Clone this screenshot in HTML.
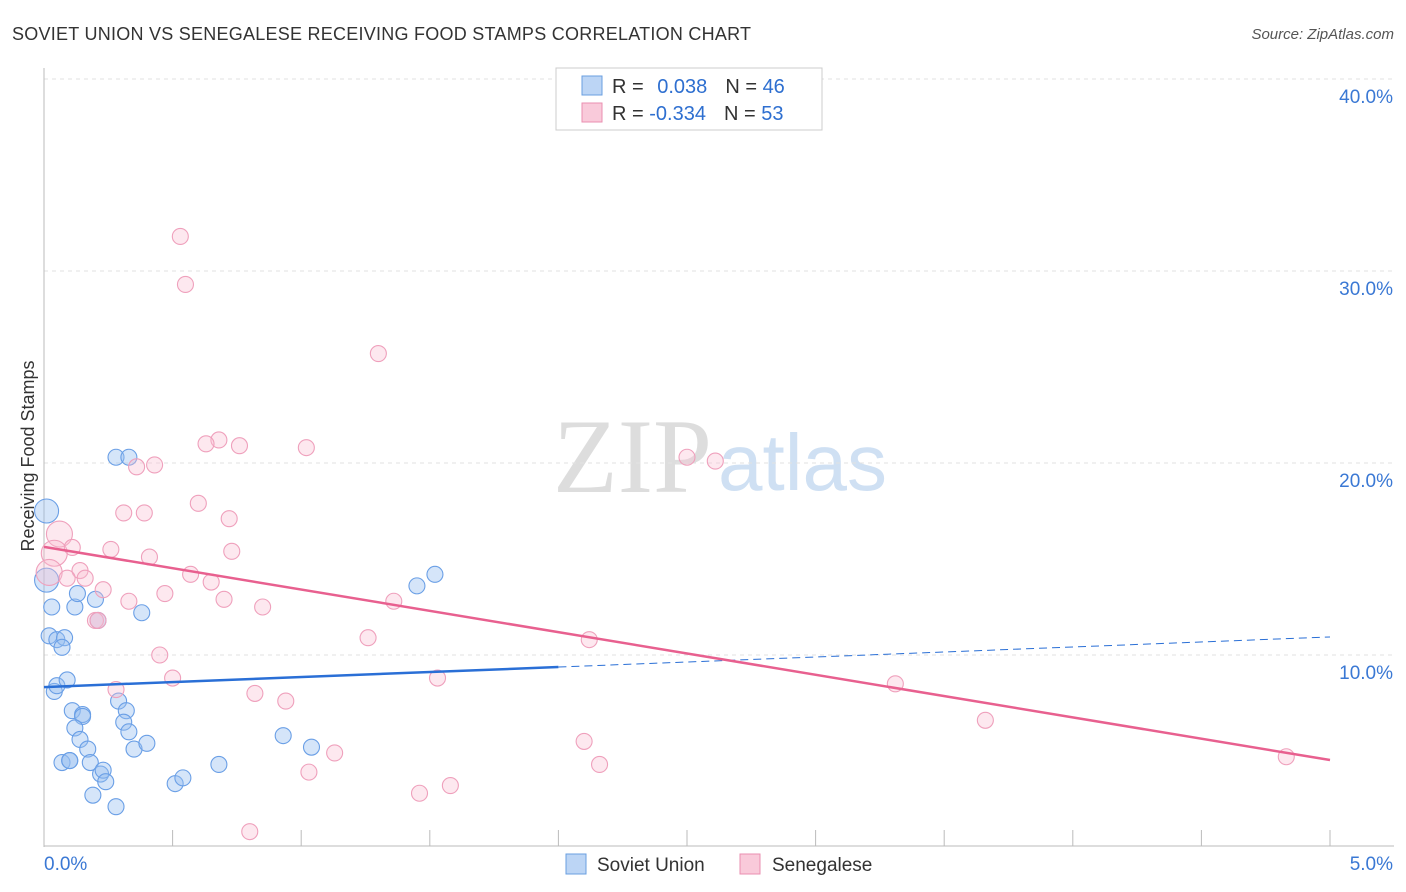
<!DOCTYPE html>
<html><head><meta charset="utf-8"><style>
body{margin:0;background:#fff;font-family:"Liberation Sans",sans-serif;}
svg{display:block}
</style></head><body>
<svg id="chart" width="1406" height="892">
<text x="12" y="40" font-size="18" fill="#333" letter-spacing="0.25">SOVIET UNION VS SENEGALESE RECEIVING FOOD STAMPS CORRELATION CHART</text>
<text x="1394" y="39" font-size="15" fill="#555" font-style="italic" text-anchor="end">Source: ZipAtlas.com</text>
<text x="34" y="456" font-size="18" fill="#333" transform="rotate(-90 34 456)" text-anchor="middle">Receiving Food Stamps</text>
<g><text x="553" y="492" font-size="106" fill="#ddd" font-family="Liberation Serif,serif">ZIP</text><text x="718" y="490" font-size="80" fill="#cfe0f3">atlas</text></g>
<g id="grid"></g><g id="axes"></g><g id="marks"></g>
<g>
<rect x="556" y="68" width="266" height="62" fill="#fff" stroke="#ccc"/>
<rect x="582" y="76" width="20" height="19" fill="#bcd5f5" stroke="#6a9fe0"/>
<rect x="582" y="103" width="20" height="19" fill="#f9cada" stroke="#ea8fb0"/>
<text x="612" y="93" font-size="20" fill="#333">R = <tspan fill="#2e6fd0" dx="8">0.038</tspan><tspan dx="18">N = </tspan><tspan fill="#2e6fd0">46</tspan></text>
<text x="612" y="120" font-size="20" fill="#333">R = <tspan fill="#2e6fd0">-0.334</tspan><tspan dx="18">N = </tspan><tspan fill="#2e6fd0">53</tspan></text>
</g>
<g>
<rect x="566" y="854" width="20" height="20" fill="#bcd5f5" stroke="#6a9fe0"/>
<text x="597" y="871" font-size="19" fill="#333">Soviet Union</text>
<rect x="740" y="854" width="20" height="20" fill="#f9cada" stroke="#ea8fb0"/>
<text x="772" y="871" font-size="19" fill="#333">Senegalese</text>
</g>
</svg>
<script>
const yTicks=[10,20,30,40];
const yTickLabels=["10.0%","20.0%","30.0%","40.0%"];
const xTickLabels=["0.0%","5.0%"];
const blueX=[0.01,0.01,0.03,0.02,0.05,0.08,0.07,0.04,0.05,0.09,0.12,0.13,0.2,0.21,0.38,0.28,0.33,0.11,0.15,0.15,0.12,0.14,0.17,0.18,0.07,0.1,0.1,0.22,0.23,0.24,0.19,0.28,0.29,0.32,0.31,0.33,0.35,0.4,0.51,0.54,0.68,0.93,1.04,1.45,1.52];
const blueY=[17.5,13.9,12.5,11.0,10.8,10.9,10.4,8.1,8.4,8.7,12.5,13.2,12.9,11.8,12.2,20.3,20.3,7.1,6.9,6.8,6.2,5.6,5.1,4.4,4.4,4.5,4.5,3.8,4.0,3.4,2.7,2.1,7.6,7.1,6.5,6.0,5.1,5.4,3.3,3.6,4.3,5.8,5.2,13.6,14.2];
const pinkX=[0.53,0.55,1.3,1.02,0.68,0.63,0.76,0.36,0.43,0.6,0.31,0.39,0.72,0.06,0.04,0.02,0.11,0.26,0.41,0.73,0.14,0.16,0.09,0.57,0.65,0.23,0.47,0.33,0.7,0.85,1.36,0.2,0.21,1.26,2.12,0.45,0.5,0.28,0.82,0.94,1.53,3.31,3.66,4.83,1.13,1.03,1.46,1.58,2.1,2.16,0.8,2.5,2.61];
const pinkY=[31.8,29.3,25.7,20.8,21.2,21.0,20.9,19.8,19.9,17.9,17.4,17.4,17.1,16.3,15.3,14.3,15.6,15.5,15.1,15.4,14.4,14.0,14.0,14.2,13.8,13.4,13.2,12.8,12.9,12.5,12.8,11.8,11.8,10.9,10.8,10.0,8.8,8.2,8.0,7.6,8.8,8.5,6.6,4.7,4.9,3.9,2.8,3.2,5.5,4.3,0.8,20.3,20.1];
const blueTrend=[8.33,10.94];
const pinkTrend=[15.63,4.53];
const X=v=>44+v/5*1286, Y=v=>847-v*19.2;
const NS="http://www.w3.org/2000/svg";
function mk(tag,attrs,parent){const e=document.createElementNS(NS,tag);for(const k in attrs)e.setAttribute(k,attrs[k]);parent.appendChild(e);return e;}
const grid=document.getElementById('grid'),axes=document.getElementById('axes'),marks=document.getElementById('marks');
yTicks.forEach((t,i)=>{
 const l=mk('line',{x1:44,x2:1394,y1:Y(t),y2:Y(t),stroke:'#e2e2e2','stroke-dasharray':'4,4'},grid);
 
 
 const tx=mk('text',{x:1393,y:Y(t)+24,'font-size':19,fill:'#3a78d4','text-anchor':'end'},axes);
 tx.textContent=yTickLabels[i];
 
 
});
mk('line',{x1:44,x2:44,y1:68,y2:847,stroke:'#bbb'},axes);
mk('line',{x1:44,x2:1394,y1:846,y2:846,stroke:'#bbb'},axes);
for(let i=1;i<=10;i++){mk('line',{x1:X(i*0.5),x2:X(i*0.5),y1:830,y2:846,stroke:'#bbb'},axes);}
[0,5].forEach((v,i)=>{const t=mk('text',{x:i?1393:44,y:870,'font-size':19,fill:'#3a78d4','text-anchor':i?'end':'start'},axes);t.textContent=xTickLabels[i];
 
 });
blueX.forEach((x,i)=>{const c=mk('circle',{cx:X(x),cy:Y(blueY[i]),r:(i<2?12:8),fill:'rgba(150,190,240,0.4)',stroke:'#6a9fe6','stroke-width':1.1},marks);
 
 });
pinkX.forEach((x,i)=>{const c=mk('circle',{cx:X(x),cy:Y(pinkY[i]),r:(i>=13&&i<=15?13:8),fill:'rgba(248,190,210,0.35)',stroke:'#efa0bc','stroke-width':1.1},marks);
 
 });
const bm=blueTrend[0]+(blueTrend[1]-blueTrend[0])*2/5;
const b1=mk('line',{x1:X(0),y1:Y(blueTrend[0]),x2:X(2),y2:Y(bm),stroke:'#2a6fd6','stroke-width':2.5},marks);


const b2=mk('line',{x1:X(2),y1:Y(bm),x2:X(5),y2:Y(blueTrend[1]),stroke:'#2a6fd6','stroke-width':1,'stroke-dasharray':'8,5'},marks);


const p1=mk('line',{x1:X(0),y1:Y(pinkTrend[0]),x2:X(5),y2:Y(pinkTrend[1]),stroke:'#e8608f','stroke-width':2.5},marks);


</script>
</body></html>
